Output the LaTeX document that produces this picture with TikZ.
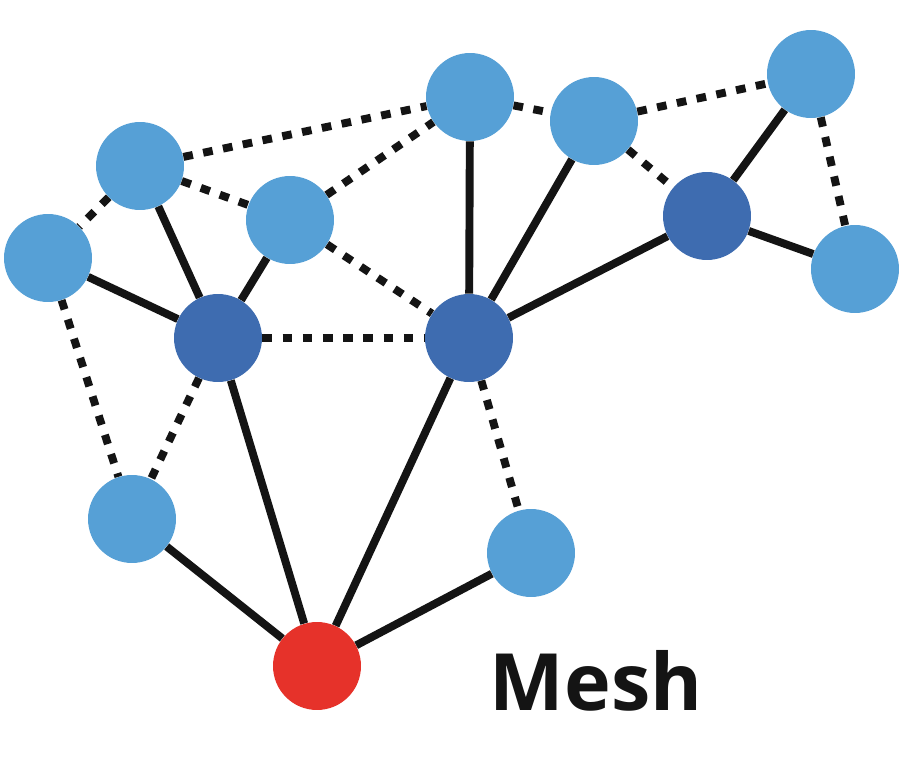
\documentclass[tikz,border=0pt]{standalone}
\usepackage{fontspec}
\setsansfont{Open Sans}
\usetikzlibrary{shapes,positioning}

\definecolor{lightnode}{RGB}{86,160,214}
\definecolor{darknode}{RGB}{62,108,176}
\definecolor{rootnode}{RGB}{230,50,42}
\definecolor{linkcol}{RGB}{20,20,20}

\begin{document}
\begin{tikzpicture}[
    x=0.02cm, y=-0.02cm,
    client/.style={circle, fill=lightnode, minimum size=1.76cm, inner sep=0pt},
    router/.style={circle, fill=darknode, minimum size=1.76cm, inner sep=0pt},
    gateway/.style={circle, fill=rootnode, minimum size=1.76cm, inner sep=0pt},
    wired/.style={draw=linkcol, line width=4.5pt},
    wireless/.style={draw=linkcol, line width=4.5pt, dash pattern=on 5.5pt off 6pt}
]
\useasboundingbox[fill=white] (0,0) rectangle (900,760);

% Light blue clients
\node[client] (client_nw) at (140, 166) {};
\node[client] (client_w) at (48, 258) {};
\node[client] (client_mid) at (290, 220) {};
\node[client] (client_top) at (470, 97) {};
\node[client] (client_topr) at (594, 121) {};
\node[client] (client_ne) at (811, 74) {};
\node[client] (client_e) at (855, 269) {};
\node[client] (client_sw) at (132, 519) {};
\node[client] (client_s) at (531, 553) {};

% Dark blue routers
\node[router] (router_left) at (218, 338) {};
\node[router] (router_mid) at (469, 338) {};
\node[router] (router_right) at (707, 216) {};

% Red gateway
\node[gateway] (gateway) at (317, 666) {};

% Label
\node[font=\sffamily\bfseries\fontsize{45}{45}\selectfont, text=linkcol, anchor=base] (label) at (596, 710) {Mesh};

% Wired links
\draw[wired] (client_nw) -- (router_left);
\draw[wired] (client_w) -- (router_left);
\draw[wired] (client_mid) -- (router_left);
\draw[wired] (router_left) -- (gateway);
\draw[wired] (router_mid) -- (client_top);
\draw[wired] (router_mid) -- (client_topr);
\draw[wired] (router_mid) -- (router_right);
\draw[wired] (router_mid) -- (gateway);
\draw[wired] (router_right) -- (client_ne);
\draw[wired] (router_right) -- (client_e);
\draw[wired] (client_sw) -- (gateway);
\draw[wired] (client_s) -- (gateway);

% Wireless links
\draw[wireless] (client_nw) -- (client_w);
\draw[wireless] (client_nw) -- (client_mid);
\draw[wireless] (client_nw) -- (client_top);
\draw[wireless] (client_mid) -- (client_top);
\draw[wireless] (client_mid) -- (router_mid);
\draw[wireless] (router_left) -- (router_mid);
\draw[wireless] (client_w) -- (client_sw);
\draw[wireless] (router_left) -- (client_sw);
\draw[wireless] (client_top) -- (client_topr);
\draw[wireless] (client_topr) -- (router_right);
\draw[wireless] (client_topr) -- (client_ne);
\draw[wireless] (client_ne) -- (client_e);
\draw[wireless] (router_mid) -- (client_s);

\end{tikzpicture}
\end{document}
